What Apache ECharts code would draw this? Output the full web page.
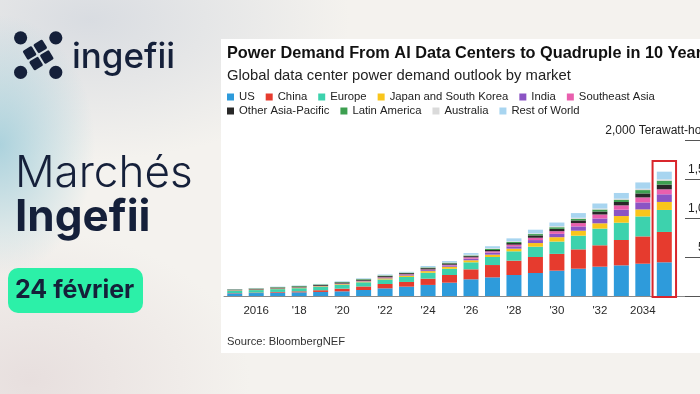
<!DOCTYPE html>
<html>
<head>
<meta charset="utf-8">
<script src="https://cdn.jsdelivr.net/npm/echarts@6/dist/echarts.min.js"></script>
<style>
  html, body { margin: 0; padding: 0; width: 700px; height: 394px; overflow: hidden; }
  body {
    position: relative;
    background:
      radial-gradient(ellipse 95px 130px at 0px 145px, rgba(160,205,218,0.85), rgba(160,205,218,0) 100%),
      radial-gradient(ellipse 260px 140px at 90px 20px, rgba(214,218,224,0.9), rgba(214,218,224,0) 100%),
      radial-gradient(ellipse 220px 150px at 30px 380px, rgba(228,218,218,0.8), rgba(228,218,218,0) 100%),
      #f4f2ee;
  }
  #panel { position: absolute; left: 221px; top: 39px; width: 479px; height: 314px; background: #ffffff; }
  #chart { position: absolute; left: 0; top: 0; width: 740px; height: 394px; }
</style>
</head>
<body>
<div id="panel"></div>
<div id="chart"></div>
<script>
// ---- data (TWh) ----
const years = ['2015','2016','2017','2018','2019','2020','2021','2022','2023','2024','2025','2026','2027','2028','2029','2030','2031','2032','2033','2034','2035'];
const tickLabels = ['', '2016', '', "'18", '', "'20", '', "'22", '', "'24", '', "'26", '', "'28", '', "'30", '', "'32", '', '2034', ''];
const us        = [34,38,43,47,52,60,77,98,120,142,171,214,239,269,295,325,350,376,393,414,432];
const china     = [4,6,9,13,22,34,45,56,60,80,98,128,158,184,205,215,248,274,325,350,389];
const europe    = [30,32,36,40,44,50,54,58,64,76,80,90,103,120,132,158,175,214,222,256,282];
const japanKorea= [4,5,6,6,7,8,10,14,18,21,26,26,30,34,47,56,64,68,85,90,103];
const india     = [1,1,2,2,3,4,5,7,9,13,17,21,26,30,38,43,55,62,81,90,98];
const seAsia    = [2,2,2,3,3,4,5,7,8,9,9,17,17,21,30,34,43,51,56,64,64];
const otherApac = [8,9,10,11,12,14,14,15,14,16,17,15,17,21,30,30,34,38,43,51,60];
const latam     = [3,5,6,7,6,6,7,8,6,9,9,9,13,13,17,21,21,26,30,43,51];
const australia = [2,2,2,2,2,3,4,4,4,4,4,9,9,9,9,13,13,13,13,17,17];
const rest      = [2,3,4,4,4,7,8,9,7,15,17,21,26,38,47,47,60,64,73,81,98];
const highlightYear = '2035';
const highlightTop = 1730;
const yTicks = [0, 500, 1000, 1500, 2000];

const seriesDefs = [
  ['US', us, '#2e9bdb'],
  ['China', china, '#e63b2e'],
  ['Europe', europe, '#3dd2ad'],
  ['Japan and South Korea', japanKorea, '#f9c51b'],
  ['India', india, '#8b54c4'],
  ['Southeast Asia', seAsia, '#e95fae'],
  ['Other Asia-Pacific', otherApac, '#282828'],
  ['Latin America', latam, '#3d9f50'],
  ['Australia', australia, '#dadada'],
  ['Rest of World', rest, '#a8d5f0']
];

const chart = echarts.init(document.getElementById('chart'), null, {renderer: 'canvas'});
const chartFont = '"Liberation Sans", Arial, sans-serif';
const brandFont = 'Inter, "Noto Sans", sans-serif';
const navy = '#15203a';

const series = seriesDefs.map(([name, values, color]) => ({
  name, type: 'bar', stack: 'total', data: values, barWidth: 15,
  itemStyle: { color }, emphasis: { disabled: true }, silent: true
}));
series.push({
  type: 'custom', name: 'highlight', silent: true, z: 10,
  data: [[years.indexOf(highlightYear), highlightTop]],
  renderItem: (params, api) => {
    const top = api.coord([api.value(0), api.value(1)]);
    const base = api.coord([api.value(0), 0]);
    const w = api.size([1, 0])[0] + 2;
    return { type: 'rect', shape: { x: top[0] - w / 2, y: top[1], width: w, height: base[1] - top[1] + 1 },
             style: { fill: 'none', stroke: '#d9262c', lineWidth: 2 } };
  }
});

const legendText = { fontSize: 11.3, color: '#222', fontFamily: chartFont, lineHeight: 14 };
const labelShown = (i) => tickLabels[i] !== undefined && tickLabels[i] !== '';

chart.setOption({
  animation: false,
  backgroundColor: 'transparent',
  textStyle: { fontFamily: chartFont },
  legend: [
    { data: seriesDefs.slice(0, 6).map(d => d[0]), left: 227, top: 90, padding: 0, itemWidth: 7, itemHeight: 7, itemGap: 11, icon: 'rect', textStyle: legendText, selectedMode: false },
    { data: seriesDefs.slice(6).map(d => d[0]), left: 227, top: 104, padding: 0, itemWidth: 7, itemHeight: 7, itemGap: 11, icon: 'rect', textStyle: legendText, selectedMode: false }
  ],
  grid: { left: 224, right: 22, top: 140, bottom: 98 },
  xAxis: {
    type: 'category', data: years, max: 22,
    axisLine: { lineStyle: { color: '#8a8a8a', width: 1 } },
    axisTick: { alignWithLabel: true, length: 4, interval: (i) => labelShown(i), lineStyle: { color: '#8a8a8a' } },
    axisLabel: { interval: (i) => labelShown(i), formatter: (v, i) => tickLabels[i] || '', color: '#2a2a2a', fontSize: 11.5, margin: 9 },
    splitLine: { show: false }
  },
  yAxis: {
    type: 'value', position: 'right', min: yTicks[0], max: yTicks[yTicks.length - 1], interval: 500,
    axisLine: { show: false },
    splitLine: { show: false },
    axisTick: { show: true, inside: true, length: 33, lineStyle: { color: '#555' } },
    axisLabel: {
      inside: true, margin: 0, verticalAlign: 'bottom', padding: [0, 0, 3, 0],
      color: '#222', fontSize: 12,
      formatter: (v) => v === 0 ? '' : (v === 2000 ? '2,000 Terawatt-hours' : v.toLocaleString('en-US'))
    }
  },
  graphic: [
    // logo
    { type: 'circle', shape: { cx: 20.6, cy: 37.8, r: 6.6 }, style: { fill: navy } },
    { type: 'circle', shape: { cx: 55.8, cy: 37.8, r: 6.6 }, style: { fill: navy } },
    { type: 'circle', shape: { cx: 20.6, cy: 72.3, r: 6.6 }, style: { fill: navy } },
    { type: 'circle', shape: { cx: 55.8, cy: 72.3, r: 6.6 }, style: { fill: navy } },
    { type: 'group', x: 38.2, y: 55, rotation: 0.55, children: [
      { type: 'rect', shape: { x: -11.5, y: -11.5, width: 10.5, height: 10.5, r: 1.5 }, style: { fill: navy } },
      { type: 'rect', shape: { x: 1, y: -11.5, width: 10.5, height: 10.5, r: 1.5 }, style: { fill: navy } },
      { type: 'rect', shape: { x: -11.5, y: 1, width: 10.5, height: 10.5, r: 1.5 }, style: { fill: navy } },
      { type: 'rect', shape: { x: 1, y: 1, width: 10.5, height: 10.5, r: 1.5 }, style: { fill: navy } }
    ]},
    { type: 'text', x: 72, y: 57.5, style: { text: 'ingefii', fill: navy, fontFamily: brandFont, fontSize: 35, fontWeight: 500, verticalAlign: 'middle' } },
    { type: 'text', x: 15, y: 173.5, style: { text: 'Marchés', fill: navy, fontFamily: brandFont, fontSize: 44, fontWeight: 300, verticalAlign: 'middle' } },
    { type: 'text', x: 15, y: 217.5, style: { text: 'Ingefii', fill: navy, fontFamily: brandFont, fontSize: 44, fontWeight: 700, verticalAlign: 'middle' } },
    { type: 'rect', shape: { x: 8, y: 268, width: 135, height: 45, r: 10 }, style: { fill: '#2cf0a8' } },
    { type: 'text', x: 15, y: 290.5, style: { text: '24 février', fill: navy, fontFamily: brandFont, fontSize: 25, fontWeight: 700, verticalAlign: 'middle' } },
    // chart texts
    { type: 'text', x: 227, y: 53.8, style: { text: 'Power Demand From AI Data Centers to Quadruple in 10 Years', fill: '#111', fontFamily: chartFont, fontSize: 16.3, fontWeight: 'bold', verticalAlign: 'middle' } },
    { type: 'text', x: 227, y: 75.5, style: { text: 'Global data center power demand outlook by market', fill: '#222', fontFamily: chartFont, fontSize: 14.8, verticalAlign: 'middle' } },
    { type: 'text', x: 227, y: 342, style: { text: 'Source: BloombergNEF', fill: '#333', fontFamily: chartFont, fontSize: 11.2, verticalAlign: 'middle' } }
  ],
  series
});
</script>
</body>
</html>
